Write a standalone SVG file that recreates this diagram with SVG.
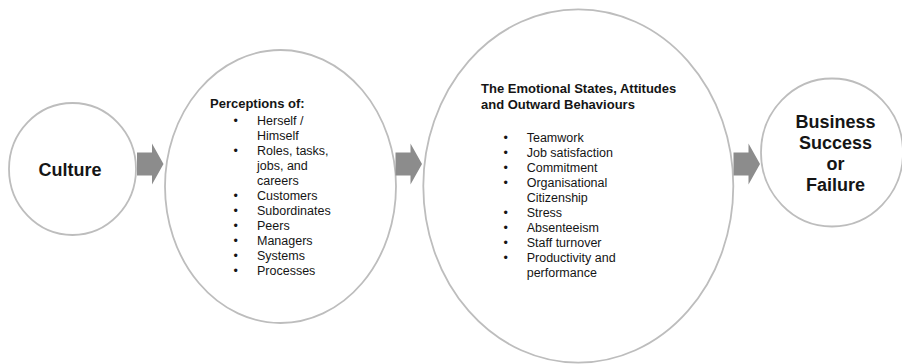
<svg xmlns="http://www.w3.org/2000/svg" xmlns:xlink="http://www.w3.org/1999/xlink" width="902" height="364" viewBox="0 0 902 364">
  <defs>
    <style>
      .node { fill: #ffffff; stroke: #bdbdbd; stroke-width: 1.8; }
      .title { font-family: "Liberation Sans", Arial, sans-serif; font-weight: bold; font-size: 18px; fill: #151515; text-anchor: middle; }
      .head { font-family: "Liberation Sans", Arial, sans-serif; font-weight: bold; font-size: 13px; fill: #151515; }
      .item { font-family: "Liberation Sans", Arial, sans-serif; font-size: 12.5px; fill: #151515; }
      .arrow { fill: #8c8c8c; }
    </style>
    <!-- block arrow, origin at left end of the shaft centre line -->
    <path id="blockArrow" class="arrow" d="M0,-11.5 H15 V-20.5 L26.5,0 L15,20.5 V11.5 H0 Z"/>
  </defs>

  <rect width="902" height="364" fill="#ffffff"/>

  <!-- Culture -->
  <g id="culture">
    <ellipse class="node" cx="72.5" cy="169" rx="63.5" ry="66"/>
    <text class="title" x="70" y="176">Culture</text>
  </g>

  <!-- Perceptions -->
  <g id="perceptions">
    <ellipse class="node" cx="280.5" cy="186.5" rx="115.5" ry="136.5"/>
    <text class="head" x="210" y="108.3">Perceptions of:</text>
    <g class="item">
      <text x="233.5" y="124.5">•</text><text x="257" y="124.5">Herself /</text>
      <text x="257" y="139.5">Himself</text>
      <text x="233.5" y="154.5">•</text><text x="257" y="154.5">Roles, tasks,</text>
      <text x="257" y="169.5">jobs, and</text>
      <text x="257" y="184.5">careers</text>
      <text x="233.5" y="199.5">•</text><text x="257" y="199.5">Customers</text>
      <text x="233.5" y="214.5">•</text><text x="257" y="214.5">Subordinates</text>
      <text x="233.5" y="229.5">•</text><text x="257" y="229.5">Peers</text>
      <text x="233.5" y="244.5">•</text><text x="257" y="244.5">Managers</text>
      <text x="233.5" y="259.5">•</text><text x="257" y="259.5">Systems</text>
      <text x="233.5" y="274.5">•</text><text x="257" y="274.5">Processes</text>
    </g>
  </g>

  <!-- Emotional states, attitudes and behaviours -->
  <g id="behaviours">
    <ellipse class="node" cx="578.3" cy="186" rx="155" ry="176.7"/>
    <text class="head" x="481" y="93.3">The Emotional States, Attitudes</text>
    <text class="head" x="481" y="108.8">and Outward Behaviours</text>
    <g class="item">
      <text x="503.5" y="141.7">•</text><text x="526.7" y="141.7">Teamwork</text>
      <text x="503.5" y="156.7">•</text><text x="526.7" y="156.7">Job satisfaction</text>
      <text x="503.5" y="171.7">•</text><text x="526.7" y="171.7">Commitment</text>
      <text x="503.5" y="186.7">•</text><text x="526.7" y="186.7">Organisational</text>
      <text x="526.7" y="201.7">Citizenship</text>
      <text x="503.5" y="216.7">•</text><text x="526.7" y="216.7">Stress</text>
      <text x="503.5" y="231.7">•</text><text x="526.7" y="231.7">Absenteeism</text>
      <text x="503.5" y="246.7">•</text><text x="526.7" y="246.7">Staff turnover</text>
      <text x="503.5" y="261.7">•</text><text x="526.7" y="261.7">Productivity and</text>
      <text x="526.7" y="276.7">performance</text>
    </g>
  </g>

  <!-- Business outcome -->
  <g id="outcome">
    <ellipse class="node" cx="832" cy="152.5" rx="71" ry="74"/>
    <text class="title" x="835.5" y="128.3">Business</text>
    <text class="title" x="835.5" y="149.3">Success</text>
    <text class="title" x="835.5" y="170">or</text>
    <text class="title" x="835.5" y="190.7">Failure</text>
  </g>

  <!-- Connectors -->
  <g id="connectors">
    <use xlink:href="#blockArrow" href="#blockArrow" x="137" y="164"/>
    <use xlink:href="#blockArrow" href="#blockArrow" x="395.5" y="164"/>
    <use xlink:href="#blockArrow" href="#blockArrow" x="733.5" y="164"/>
  </g>
</svg>
